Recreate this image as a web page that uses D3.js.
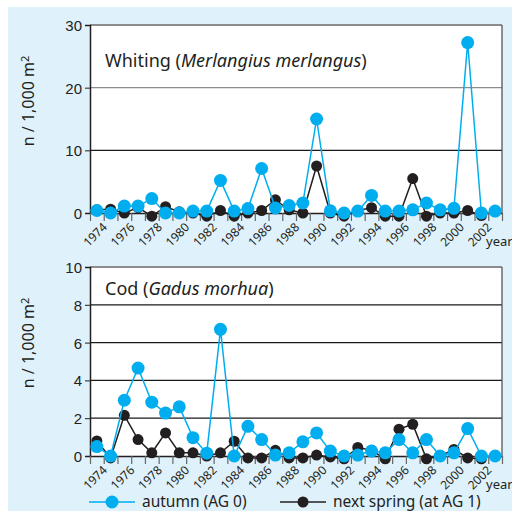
<!DOCTYPE html>
<html>
<head>
<meta charset="utf-8">
<script src="https://cdn.jsdelivr.net/npm/d3@7"></script>
<style>
  body { margin: 0; background: #fff; }
  svg { display: block; font-family: "Noto Sans", "Open Sans", sans-serif; }
</style>
</head>
<body>
<script>
// data
const years = [1974, 1975, 1976, 1977, 1978, 1979, 1980, 1981, 1982, 1983,
  1984, 1985, 1986, 1987, 1988, 1989, 1990, 1991, 1992, 1993,
  1994, 1995, 1996, 1997, 1998, 1999, 2000, 2001, 2002, 2003]
const yearLabels = [1974, 1976, 1978, 1980, 1982, 1984, 1986, 1988, 1990,
  1992, 1994, 1996, 1998, 2000, 2002]

// whiting, n / 1,000 m2
const whitingAutumn = [0.4, 0.0, 1.1, 1.1, 2.3, 0.0, 0.0, 0.3, 0.3, 5.2,
  0.3, 0.7, 7.1, 0.8, 1.2, 1.6, 15.0, 0.35, 0.0, 0.3,
  2.8, 0.3, 0.3, 0.5, 1.6, 0.5, 0.75, 27.2, 0.0, 0.3]
const whitingSpring = [0.5, 0.6, 0.0, 0.85, -0.5, 1.0, 0.2, 0.0, -0.5, 0.4,
  -0.5, 0.0, 0.4, 2.1, 0.5, 0.0, 7.5, 0.0, -0.5, 0.4,
  0.85, -0.5, -0.5, 5.5, -0.5, 0.0, 0.0, 0.4, -0.4]
const whitingTicks = [0, 10, 20, 30]

// cod, n / 1,000 m2
const codAutumn = [0.5, 0.0, 2.95, 4.65, 2.85, 2.27, 2.6, 0.97, 0.15, 6.7,
  0.0, 1.57, 0.87, 0.05, 0.17, 0.75, 1.22, 0.26, 0.0, 0.05,
  0.26, 0.17, 0.87, 0.17, 0.87, 0.0, 0.17, 1.45, 0.0, 0.0]
const codSpring = [0.8, -0.1, 2.15, 0.87, 0.17, 1.22, 0.17, 0.17, 0.0, 0.17,
  0.78, -0.1, -0.1, 0.3, -0.1, -0.1, 0.05, -0.05, -0.15, 0.45,
  0.3, -0.15, 1.42, 1.68, -0.15, 0.0, 0.35, -0.1, -0.15]
const codTicks = [0, 2, 4, 6, 8, 10]

const blue = '#00aeef'
, black = '#231f20'
, textColor = '#231f20'

const svg = d3.select('body').append('svg')
    .attr('width', 512)
    .attr('height', 511)

// light blue panel
svg.append('rect')
    .attr('x', 8).attr('y', 7)
    .attr('width', 504).attr('height', 504)
    .attr('fill', '#dff1fa')

const left = 90, right = 502

const x = d3.scaleLinear()
    .domain([1973.5, 2003.5])
    .range([left, right])

function drawPanel(p) {
  const y = d3.scaleLinear()
      .domain([0, p.ticks[p.ticks.length - 1]])
      .range([p.bottom, p.top])

  const g = svg.append('g')

  // plot area
  g.append('rect')
      .attr('x', left).attr('y', p.top)
      .attr('width', right - left).attr('height', p.bottom - p.top)
      .attr('fill', '#fff')

  // gridlines
  g.selectAll('.grid').data(p.ticks.slice(1))
    .enter().append('line')
      .attr('x1', left).attr('x2', right)
      .attr('y1', d => y(d)).attr('y2', d => y(d))
      .attr('stroke', d => p.grey.includes(d) ? '#8c8c8c' : '#1a1a1a')
      .attr('stroke-width', d => d === p.ticks[p.ticks.length - 1] ? 2 : 1.3)

  // right border
  g.append('line')
      .attr('x1', right).attr('x2', right)
      .attr('y1', p.top).attr('y2', p.bottom)
      .attr('stroke', '#555').attr('stroke-width', 1.3)

  // y axis
  const yAxis = g.append('g')
      .attr('transform', 'translate(' + left + ',0)')
      .call(d3.axisLeft(y).tickValues(p.ticks).tickSize(5).tickPadding(3))
  yAxis.select('.domain').attr('stroke', black).attr('stroke-width', 1.5)
  yAxis.selectAll('line').attr('stroke', black)
  yAxis.selectAll('text')
      .attr('fill', textColor)
      .style('font-size', '15px')
      .attr('dy', '0.36em')

  // x axis: ticks between years
  const xAxis = g.append('g')
      .attr('transform', 'translate(0,' + p.bottom + ')')
      .call(d3.axisBottom(x)
        .tickValues(d3.range(1973.5, 2004, 1))
        .tickFormat('')
        .tickSizeInner(8).tickSizeOuter(0))
  xAxis.select('.domain').attr('stroke', black).attr('stroke-width', 1.5)
  xAxis.selectAll('line').attr('stroke', '#666').attr('stroke-width', 1.2)

  g.selectAll('.xlab').data(yearLabels)
    .enter().append('text')
      .attr('transform', d => 'translate(' + (x(d) + 5) + ',' + (p.bottom + 9) + ')rotate(-45)')
      .attr('text-anchor', 'end')
      .attr('dy', '0.7em')
      .attr('fill', textColor)
      .style('font-size', '12px')
      .text(d => d)

  g.append('text')
      .attr('x', 486).attr('y', p.bottom + 33)
      .attr('fill', textColor)
      .style('font-size', '13px')
      .text('year')

  // y title
  const yt = g.append('text')
      .attr('transform', 'translate(34,' + p.titleY + ')rotate(-90)')
      .attr('text-anchor', 'middle')
      .attr('fill', textColor)
      .style('font-size', '16px')
  yt.append('tspan').text('n / 1,000 m')
  yt.append('tspan').attr('dy', '-0.45em').style('font-size', '11px').text('2')

  // species title
  const t = g.append('text')
      .attr('x', 105).attr('y', p.top + p.nameDy)
      .attr('fill', textColor)
      .style('font-size', '18px')
  t.append('tspan').text(p.name + ' (')
  t.append('tspan').style('font-style', 'italic').text(p.latin)
  t.append('tspan').text(')')

  const line = d3.line()
      .x((d, i) => x(years[i]))
      .y(d => y(d))

  // next spring first, autumn on top
  g.append('path')
      .datum(p.spring)
      .attr('d', line)
      .attr('fill', 'none')
      .attr('stroke', black)
      .attr('stroke-width', 1.5)
  g.selectAll('.sp').data(p.spring)
    .enter().append('circle')
      .attr('cx', (d, i) => x(years[i]))
      .attr('cy', d => y(d))
      .attr('r', 5.5)
      .attr('fill', black)

  g.append('path')
      .datum(p.autumn)
      .attr('d', line)
      .attr('fill', 'none')
      .attr('stroke', blue)
      .attr('stroke-width', 1.5)
  g.selectAll('.au').data(p.autumn)
    .enter().append('circle')
      .attr('cx', (d, i) => x(years[i]))
      .attr('cy', d => y(d))
      .attr('r', 6.5)
      .attr('fill', blue)
}

drawPanel({
  top: 25, bottom: 213, ticks: whitingTicks, grey: [20, 30],
  autumn: whitingAutumn, spring: whitingSpring,
  name: 'Whiting', latin: 'Merlangius merlangus', nameDy: 42, titleY: 101
})

drawPanel({
  top: 267, bottom: 456, ticks: codTicks, grey: [10],
  autumn: codAutumn, spring: codSpring,
  name: 'Cod', latin: 'Gadus morhua', nameDy: 28, titleY: 343
})

// legend
const legend = svg.append('g').attr('transform', 'translate(0,502)')
const items = [
  {label: 'autumn (AG 0)', color: blue, r: 6.5, x0: 89},
  {label: 'next spring (at AG 1)', color: black, r: 5.5, x0: 280}
]
items.forEach(it => {
  legend.append('line')
      .attr('x1', it.x0).attr('x2', it.x0 + 46)
      .attr('stroke', it.color).attr('stroke-width', 1.5)
  legend.append('circle')
      .attr('cx', it.x0 + 23).attr('r', it.r).attr('fill', it.color)
  legend.append('text')
      .attr('x', it.x0 + 53).attr('dy', '0.35em')
      .attr('fill', textColor)
      .style('font-size', '15.5px')
      .text(it.label)
})
</script>
</body>
</html>
